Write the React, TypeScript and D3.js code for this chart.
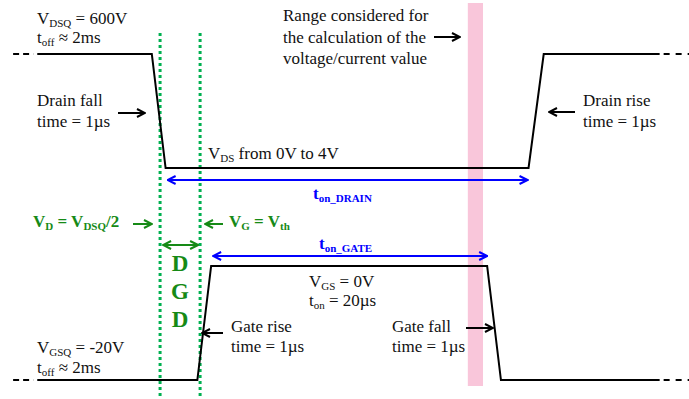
import React from 'react';
import * as d3 from 'd3';

// waveform data: time in µs, voltages in V
const drainT = [-8.3, 0, 1, 27.3, 28.4, 36.8];
const drainV = [600, 600, 0, 0, 600, 600];
const gateT = [-8.3, 3.3, 4.3, 24.3, 25.3, 36.8];
const gateV = [-20, -20, 0, 0, -20, -20];
const dashLeftT = [-10.05, -8.3];
const dashRightT = [36.8, 39];
const markerT = [0.6, 3.5]; // V_D = V_DSQ/2, V_G = V_th
const rangeT = [22.9, 24.0];

const W = 689;
const H = 399;
const FONT = 'Liberation Serif, Times New Roman, Times, serif';
const GREEN_TXT = '#168a16';
const GREEN_DOT = '#00b050';
const BLUE = '#0000ff';

const x = d3.scaleLinear().domain([-11, 39]).range([0, 690]);
const yDrain = d3.scaleLinear().domain([0, 600]).range([168, 54]);
const yGate = d3.scaleLinear().domain([-20, 0]).range([380, 266]);

const drainLine = d3.line<number>().x((d, i) => x(drainT[i])).y(d => yDrain(d));
const gateLine = d3.line<number>().x((d, i) => x(gateT[i])).y(d => yGate(d));

function Arrow({ x1, y1, x2, y2, color, double }: any) {
  const id = color === BLUE ? 'b' : color === '#000' ? 'k' : 'g';
  return (
    <line x1={x1} y1={y1} x2={x2} y2={y2} stroke={color} strokeWidth={2}
      markerEnd={`url(#arr-${id})`} markerStart={double ? `url(#arrs-${id})` : undefined} />
  );
}

function Sub({ children, size = 11 }: any) {
  return <tspan fontSize={size} dy={3}>{children}</tspan>;
}

export default function App() {
  const colors: [string, string][] = [['k', '#000'], ['b', BLUE], ['g', GREEN_TXT]];
  const txt = { style: { fontFamily: FONT }, fontSize: 17, fill: '#111' };
  const green = { style: { fontFamily: FONT }, fontSize: 17, fontWeight: 700, fill: GREEN_TXT };
  const blue = { style: { fontFamily: FONT }, fontSize: 17, fontWeight: 700, fill: BLUE };

  return (
    <svg width={W} height={H} style={{ position: 'absolute', left: 0, top: 0, background: '#fff' }}>
      <defs>
        {colors.map(([id, c]) => (
          <React.Fragment key={id}>
            <marker id={`arr-${id}`} viewBox="0 0 10 10" refX={9} refY={5} markerWidth={5} markerHeight={5}
              orient="auto" markerUnits="strokeWidth">
              <path d="M1,1 L9,5 L1,9" fill="none" stroke={c} strokeWidth={2} />
            </marker>
            <marker id={`arrs-${id}`} viewBox="0 0 10 10" refX={1} refY={5} markerWidth={5} markerHeight={5}
              orient="auto" markerUnits="strokeWidth">
              <path d="M9,1 L1,5 L9,9" fill="none" stroke={c} strokeWidth={2} />
            </marker>
          </React.Fragment>
        ))}
      </defs>

      {/* range band */}
      <rect x={x(rangeT[0])} y={3} width={x(rangeT[1]) - x(rangeT[0])} height={383} fill="#f9c6da" />

      {/* green marker lines */}
      {markerT.map((t, i) => (
        <line key={i} x1={x(t)} x2={x(t)} y1={33} y2={H} stroke={GREEN_DOT} strokeWidth={3} strokeDasharray="3 3" />
      ))}

      {/* waveforms */}
      <path d={drainLine(drainV) || ''} fill="none" stroke="#000" strokeWidth={2} />
      <path d={gateLine(gateV) || ''} fill="none" stroke="#000" strokeWidth={2} />
      {[yDrain(600), yGate(-20)].map((yy, i) => (
        <g key={i}>
          <line x1={x(dashLeftT[0])} x2={x(dashLeftT[1]) - 4} y1={yy} y2={yy} stroke="#000" strokeWidth={2} strokeDasharray="6 4" />
          <line x1={x(dashRightT[0]) + 4} x2={x(dashRightT[1])} y1={yy} y2={yy} stroke="#000" strokeWidth={2} strokeDasharray="6 6" />
        </g>
      ))}

      {/* durations */}
      <Arrow x1={x(drainT[2]) + 2} y1={yDrain(0) + 12} x2={x(drainT[3]) - 1} y2={yDrain(0) + 12} color={BLUE} double />
      <Arrow x1={x(gateT[2]) + 2} y1={yGate(0) - 10} x2={x(gateT[3])} y2={yGate(0) - 10} color={BLUE} double />
      <Arrow x1={x(markerT[0]) + 3} y1={245} x2={x(markerT[1]) - 2} y2={245} color={GREEN_TXT} double />

      {/* drain annotations */}
      <text x={37} y={24} {...txt}>V<Sub>DSQ</Sub><tspan dy={-3}> = 600V</tspan></text>
      <text x={37} y={43} {...txt}>t<Sub>off</Sub><tspan dy={-3}> ≈ 2ms</tspan></text>
      <text x={37} y={106} {...txt}>Drain fall</text>
      <text x={37} y={127} {...txt}>time = 1µs</text>
      <Arrow x1={118} y1={113} x2={145} y2={113} color="#000" />

      <text x={208} y={159} {...txt}>V<Sub>DS</Sub><tspan dy={-3}> from 0V to 4V</tspan></text>
      <text x={313} y={199} {...blue}>t<Sub>on_DRAIN</Sub></text>

      <text x={283} y={21} {...txt}>Range considered for</text>
      <text x={283} y={43} {...txt}>the calculation of the</text>
      <text x={283} y={64} {...txt}>voltage/current value</text>
      <Arrow x1={434} y1={37} x2={460} y2={37} color="#000" />

      <text x={583} y={106} {...txt}>Drain rise</text>
      <text x={583} y={127} {...txt}>time = 1µs</text>
      <Arrow x1={575} y1={112} x2={549} y2={112} color="#000" />

      {/* threshold labels */}
      <text x={33} y={227} {...green}>V<Sub>D</Sub><tspan dy={-3}> = V</tspan><Sub>DSQ</Sub><tspan dy={-3}>/2</tspan></text>
      <Arrow x1={133} y1={224} x2={152} y2={224} color={GREEN_TXT} />
      <Arrow x1={223} y1={224} x2={205} y2={224} color={GREEN_TXT} />
      <text x={229} y={227} {...green}>V<Sub>G</Sub><tspan dy={-3}> = V</tspan><Sub>th</Sub></text>
      {['D', 'G', 'D'].map((c, i) => (
        <text key={i} x={180} y={271 + i * 28} textAnchor="middle" {...green} fontSize={23}>{c}</text>
      ))}

      {/* gate annotations */}
      <text x={319} y={249} {...blue}>t<Sub>on_GATE</Sub></text>
      <text x={309} y={287} {...txt}>V<Sub>GS</Sub><tspan dy={-3}> = 0V</tspan></text>
      <text x={309} y={306} {...txt}>t<Sub>on</Sub><tspan dy={-3}> = 20µs</tspan></text>
      <text x={231} y={332} {...txt}>Gate rise</text>
      <text x={231} y={352} {...txt}>time = 1µs</text>
      <Arrow x1={223} y1={333} x2={202} y2={333} color="#000" />
      <text x={392} y={332} {...txt}>Gate fall</text>
      <text x={392} y={352} {...txt}>time = 1µs</text>
      <Arrow x1={466} y1={328} x2={493} y2={328} color="#000" />
      <text x={37} y={353} {...txt}>V<Sub>GSQ</Sub><tspan dy={-3}> = -20V</tspan></text>
      <text x={37} y={373} {...txt}>t<Sub>off</Sub><tspan dy={-3}> ≈ 2ms</tspan></text>
    </svg>
  );
}
